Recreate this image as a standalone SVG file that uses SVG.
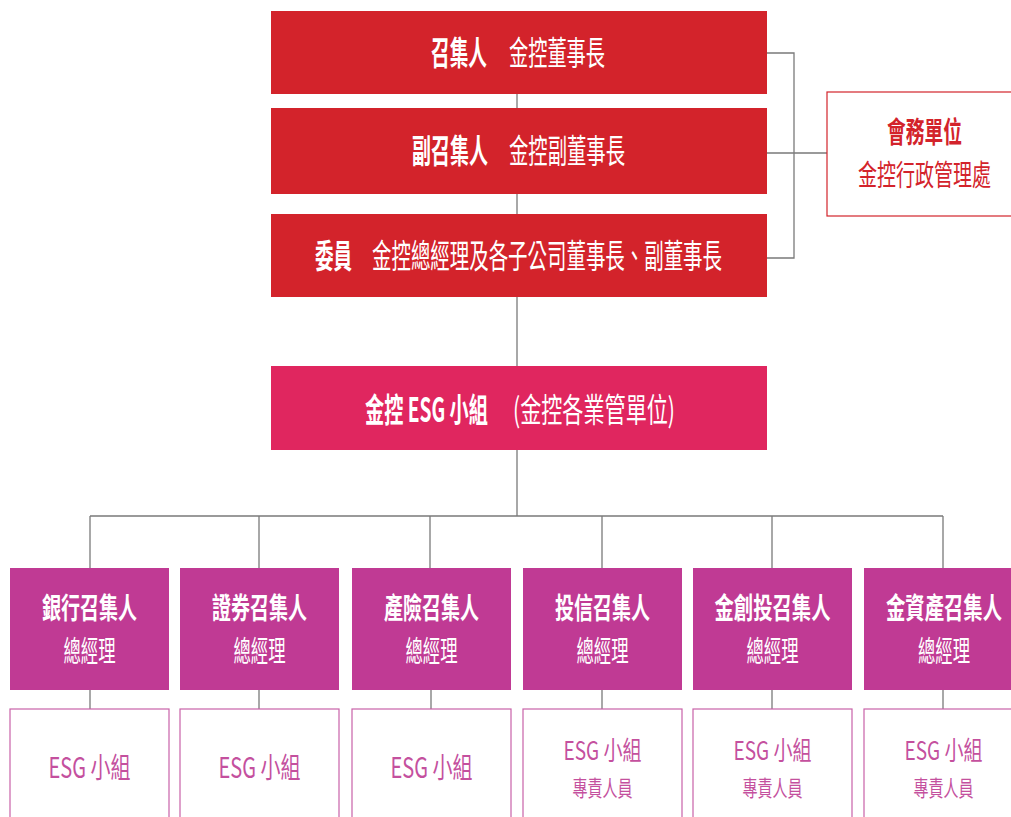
<svg xmlns="http://www.w3.org/2000/svg" width="1011" height="817" viewBox="0 0 1011 817">
<style>
text{font-family:"Noto Sans CJK TC","Noto Sans CJK SC",sans-serif;}
.w{fill:#ffffff;}
.b{font-weight:700;}
.r{font-weight:400;}
.m{text-anchor:middle;}
.top{fill:#d3232b;}
.esg{fill:#e0265f;}
.mag{fill:#c03a94;}
.low{fill:#ffffff;stroke:#c862a8;stroke-width:1.2;}
.side{fill:#ffffff;stroke:#d3232b;stroke-width:1.2;}
.lt{fill:#c4509e;}
.rt{fill:#d3232b;}
.c{fill:none;stroke:#7a7a7a;stroke-width:1.3;}
</style>
<rect width="1011" height="817" fill="#ffffff"/>
<g id="connectors">
<path class="c" d="M517 94V108M517 194V214M517 297V366M517 450V516M90 516H943M90 516V568M259 516V568M430 516V568M602 516V568M772 516V568M943 516V568"/>
<path class="c" d="M767 53H794V258H767M767 153H827"/>
<path class="c" d="M90 690V709M259 690V709M431 690V709M602 690V709M772 690V709M943 690V709"/>
</g>
<g id="convener">
<rect class="top" x="271" y="11" width="496" height="83"/>
<text class="w b" font-size="33" transform="translate(431 65) scale(0.6 1)" textLength="93.3" lengthAdjust="spacingAndGlyphs">召集人</text>
<text class="w r" font-size="33" transform="translate(509 65) scale(0.6 1)" textLength="160" lengthAdjust="spacingAndGlyphs">金控董事長</text>
</g>
<g id="vice-convener">
<rect class="top" x="271" y="108" width="496" height="86"/>
<text class="w b" font-size="33" transform="translate(412 163) scale(0.6 1)" textLength="126.7" lengthAdjust="spacingAndGlyphs">副召集人</text>
<text class="w r" font-size="33" transform="translate(509 163) scale(0.6 1)" textLength="193.3" lengthAdjust="spacingAndGlyphs">金控副董事長</text>
</g>
<g id="members">
<rect class="top" x="271" y="214" width="496" height="83"/>
<text class="w b" font-size="33" transform="translate(315 268) scale(0.6 1)" textLength="61.7" lengthAdjust="spacingAndGlyphs">委員</text>
<text class="w r" font-size="33" transform="translate(372 268) scale(0.6 1)" textLength="583.3" lengthAdjust="spacingAndGlyphs">金控總經理及各子公司董事長、副董事長</text>
</g>
<g id="secretariat">
<rect class="side" x="827" y="92" width="200" height="124"/>
<text class="rt b" font-size="29" transform="translate(887 143) scale(0.6 1)" textLength="125" lengthAdjust="spacingAndGlyphs">會務單位</text>
<text class="rt r" font-size="29" transform="translate(858 186) scale(0.6 1)" textLength="221.7" lengthAdjust="spacingAndGlyphs">金控行政管理處</text>
</g>
<g id="esg-group">
<rect class="esg" x="271" y="366" width="496" height="84"/>
<text class="w b" font-size="33" transform="translate(365 422) scale(0.6 1)" textLength="205" lengthAdjust="spacingAndGlyphs">金控 ESG 小組</text>
<text class="w r" font-size="33" transform="translate(513 422) scale(0.6 1)" textLength="270" lengthAdjust="spacingAndGlyphs">(金控各業管單位)</text>
</g>
<g id="bank">
<rect class="mag" x="10" y="568" width="159" height="122"/>
<text class="w b m" font-size="29" transform="translate(89.5 619) scale(0.6 1)" textLength="158.3" lengthAdjust="spacingAndGlyphs">銀行召集人</text>
<text class="w r m" font-size="29" transform="translate(89.5 662) scale(0.6 1)" textLength="86.7" lengthAdjust="spacingAndGlyphs">總經理</text>
</g>
<g id="securities">
<rect class="mag" x="180" y="568" width="159" height="122"/>
<text class="w b m" font-size="29" transform="translate(259.5 619) scale(0.6 1)" textLength="158.3" lengthAdjust="spacingAndGlyphs">證券召集人</text>
<text class="w r m" font-size="29" transform="translate(259.5 662) scale(0.6 1)" textLength="86.7" lengthAdjust="spacingAndGlyphs">總經理</text>
</g>
<g id="insurance">
<rect class="mag" x="352" y="568" width="159" height="122"/>
<text class="w b m" font-size="29" transform="translate(431.5 619) scale(0.6 1)" textLength="158.3" lengthAdjust="spacingAndGlyphs">產險召集人</text>
<text class="w r m" font-size="29" transform="translate(431.5 662) scale(0.6 1)" textLength="86.7" lengthAdjust="spacingAndGlyphs">總經理</text>
</g>
<g id="trust">
<rect class="mag" x="523" y="568" width="159" height="122"/>
<text class="w b m" font-size="29" transform="translate(602.5 619) scale(0.6 1)" textLength="158.3" lengthAdjust="spacingAndGlyphs">投信召集人</text>
<text class="w r m" font-size="29" transform="translate(602.5 662) scale(0.6 1)" textLength="86.7" lengthAdjust="spacingAndGlyphs">總經理</text>
</g>
<g id="venture">
<rect class="mag" x="693" y="568" width="159" height="122"/>
<text class="w b m" font-size="29" transform="translate(772.5 619) scale(0.6 1)" textLength="193.3" lengthAdjust="spacingAndGlyphs">金創投召集人</text>
<text class="w r m" font-size="29" transform="translate(772.5 662) scale(0.6 1)" textLength="86.7" lengthAdjust="spacingAndGlyphs">總經理</text>
</g>
<g id="asset">
<rect class="mag" x="864" y="568" width="159" height="122"/>
<text class="w b m" font-size="29" transform="translate(944 619) scale(0.6 1)" textLength="193.3" lengthAdjust="spacingAndGlyphs">金資產召集人</text>
<text class="w r m" font-size="29" transform="translate(944 662) scale(0.6 1)" textLength="86.7" lengthAdjust="spacingAndGlyphs">總經理</text>
</g>
<g id="bank-esg">
<rect class="low" x="10" y="709" width="159" height="120"/>
<text class="lt r m" font-size="28" transform="translate(89.5 778) scale(0.6 1)" textLength="136.7" lengthAdjust="spacingAndGlyphs">ESG 小組</text>
</g>
<g id="securities-esg">
<rect class="low" x="180" y="709" width="159" height="120"/>
<text class="lt r m" font-size="28" transform="translate(259.5 778) scale(0.6 1)" textLength="136.7" lengthAdjust="spacingAndGlyphs">ESG 小組</text>
</g>
<g id="insurance-esg">
<rect class="low" x="352" y="709" width="159" height="120"/>
<text class="lt r m" font-size="28" transform="translate(431.5 778) scale(0.6 1)" textLength="136.7" lengthAdjust="spacingAndGlyphs">ESG 小組</text>
</g>
<g id="trust-esg">
<rect class="low" x="523" y="709" width="159" height="120"/>
<text class="lt r m" font-size="26" transform="translate(602.5 760) scale(0.6 1)" textLength="130" lengthAdjust="spacingAndGlyphs">ESG 小組</text>
<text class="lt r m" font-size="22" transform="translate(602.5 796) scale(0.6 1)" textLength="100" lengthAdjust="spacingAndGlyphs">專責人員</text>
</g>
<g id="venture-esg">
<rect class="low" x="693" y="709" width="159" height="120"/>
<text class="lt r m" font-size="26" transform="translate(772.5 760) scale(0.6 1)" textLength="130" lengthAdjust="spacingAndGlyphs">ESG 小組</text>
<text class="lt r m" font-size="22" transform="translate(772.5 796) scale(0.6 1)" textLength="100" lengthAdjust="spacingAndGlyphs">專責人員</text>
</g>
<g id="asset-esg">
<rect class="low" x="864" y="709" width="159" height="120"/>
<text class="lt r m" font-size="26" transform="translate(943.5 760) scale(0.6 1)" textLength="130" lengthAdjust="spacingAndGlyphs">ESG 小組</text>
<text class="lt r m" font-size="22" transform="translate(943.5 796) scale(0.6 1)" textLength="100" lengthAdjust="spacingAndGlyphs">專責人員</text>
</g>
</svg>
